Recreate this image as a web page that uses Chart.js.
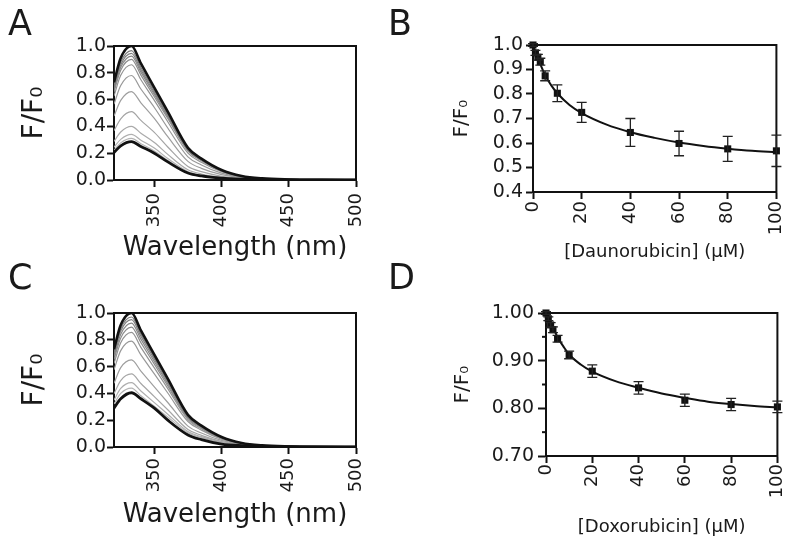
<!DOCTYPE html>
<html lang="en">
<head>
<meta charset="UTF-8">
<title>Fluorescence quenching</title>
<script src="https://cdn.jsdelivr.net/npm/chart.js"></script>
<style>
  body { margin: 0; background: #fff; }
  #wrap { position: relative; width: 800px; height: 539px; overflow: hidden; }
  #wrap canvas { position: absolute; }
  .letter { position: absolute; font-family: 'DejaVu Sans', sans-serif; font-size: 35px; line-height: 1; color: #1a1a1a; }
</style>
</head>
<body>
<div id="wrap">
  <canvas id="chartA" width="390" height="270" style="left:0;top:0"></canvas>
  <canvas id="chartB" width="400" height="270" style="left:400px;top:0"></canvas>
  <canvas id="chartC" width="390" height="269" style="left:0;top:270px"></canvas>
  <canvas id="chartD" width="400" height="269" style="left:400px;top:270px"></canvas>
  <div class="letter" style="left:8px;top:6px">A</div>
  <div class="letter" style="left:388px;top:6px">B</div>
  <div class="letter" style="left:8px;top:260px">C</div>
  <div class="letter" style="left:388px;top:260px">D</div>
</div>
<script>
// emission spectra (panels A and C)
const wavelengths = [320, 325, 333, 340, 350, 360, 375, 385, 400, 415, 430, 450, 475, 500];
const spectraTicks = [350, 400, 450, 500];
const spectraYTicks = [0, 0.2, 0.4, 0.6, 0.8, 1.0];

const topA = [0.73, 0.91, 1.0, 0.87, 0.69, 0.51, 0.24, 0.16, 0.075, 0.03, 0.012, 0.004, 0.001, 0];
const bottomA = [0.205, 0.255, 0.286, 0.25, 0.20, 0.135, 0.052, 0.03, 0.013, 0.006, 0.003, 0.001, 0, 0];
const grayA = [
  [0.704, 0.878, 0.965, 0.840, 0.666, 0.492, 0.232, 0.154, 0.072, 0.029, 0.012, 0.004, 0.001, 0],
  [0.690, 0.860, 0.945, 0.822, 0.652, 0.482, 0.227, 0.151, 0.071, 0.028, 0.011, 0.004, 0.001, 0],
  [0.675, 0.842, 0.925, 0.805, 0.638, 0.472, 0.222, 0.148, 0.069, 0.028, 0.011, 0.004, 0.001, 0],
  [0.657, 0.819, 0.900, 0.783, 0.621, 0.459, 0.216, 0.144, 0.068, 0.027, 0.011, 0.004, 0.001, 0],
  [0.627, 0.781, 0.860, 0.748, 0.594, 0.435, 0.201, 0.132, 0.062, 0.025, 0.010, 0.003, 0.001, 0],
  [0.566, 0.705, 0.780, 0.679, 0.541, 0.388, 0.173, 0.112, 0.051, 0.021, 0.009, 0.003, 0.001, 0],
  [0.477, 0.594, 0.660, 0.576, 0.459, 0.323, 0.139, 0.087, 0.040, 0.017, 0.007, 0.003, 0, 0],
  [0.368, 0.457, 0.510, 0.445, 0.355, 0.246, 0.101, 0.062, 0.028, 0.012, 0.005, 0.002, 0, 0],
  [0.288, 0.358, 0.400, 0.349, 0.280, 0.191, 0.076, 0.045, 0.020, 0.009, 0.004, 0.001, 0, 0],
  [0.244, 0.303, 0.340, 0.297, 0.238, 0.160, 0.062, 0.036, 0.015, 0.007, 0.004, 0.001, 0, 0],
  [0.222, 0.277, 0.310, 0.271, 0.217, 0.146, 0.056, 0.033, 0.014, 0.007, 0.003, 0.001, 0, 0]
];

const topC = [0.73, 0.91, 1.0, 0.87, 0.69, 0.51, 0.24, 0.16, 0.075, 0.03, 0.012, 0.004, 0.001, 0];
const bottomC = [0.29, 0.36, 0.405, 0.36, 0.29, 0.20, 0.09, 0.055, 0.022, 0.01, 0.005, 0.002, 0, 0];
const grayC = [
  [0.708, 0.883, 0.970, 0.844, 0.669, 0.495, 0.233, 0.155, 0.073, 0.029, 0.012, 0.004, 0.001, 0],
  [0.694, 0.865, 0.950, 0.827, 0.656, 0.485, 0.228, 0.152, 0.071, 0.029, 0.011, 0.004, 0.001, 0],
  [0.675, 0.842, 0.925, 0.805, 0.638, 0.472, 0.222, 0.148, 0.069, 0.028, 0.011, 0.004, 0.001, 0],
  [0.653, 0.814, 0.895, 0.779, 0.618, 0.456, 0.215, 0.143, 0.067, 0.027, 0.011, 0.004, 0.001, 0],
  [0.624, 0.778, 0.855, 0.744, 0.590, 0.436, 0.205, 0.137, 0.064, 0.026, 0.010, 0.003, 0.001, 0],
  [0.577, 0.719, 0.790, 0.687, 0.545, 0.403, 0.190, 0.126, 0.059, 0.024, 0.009, 0.003, 0.001, 0],
  [0.475, 0.592, 0.650, 0.566, 0.449, 0.332, 0.156, 0.104, 0.049, 0.020, 0.008, 0.003, 0.001, 0],
  [0.398, 0.496, 0.545, 0.474, 0.376, 0.278, 0.131, 0.087, 0.041, 0.016, 0.007, 0.002, 0, 0],
  [0.350, 0.437, 0.480, 0.418, 0.331, 0.245, 0.115, 0.077, 0.036, 0.014, 0.006, 0.002, 0, 0],
  [0.321, 0.400, 0.440, 0.383, 0.304, 0.224, 0.106, 0.070, 0.033, 0.013, 0.005, 0.002, 0, 0]
];

// titration data (panels B and D)
const conc = [0, 1, 2, 3, 5, 10, 20, 40, 60, 80, 100];
const concTicks = [0, 20, 40, 60, 80, 100];
const daunoF = [1.0, 0.968, 0.95, 0.932, 0.874, 0.803, 0.725, 0.643, 0.598, 0.576, 0.568];
const daunoErr = [0.006, 0.01, 0.012, 0.014, 0.02, 0.034, 0.041, 0.057, 0.05, 0.051, 0.064];
const doxoF = [1.0, 0.988, 0.975, 0.965, 0.946, 0.912, 0.878, 0.843, 0.817, 0.808, 0.803];
const doxoErr = [0.003, 0.004, 0.005, 0.006, 0.007, 0.008, 0.013, 0.013, 0.013, 0.013, 0.012];
const fitX = [0, 1, 2, 3, 5, 7.5, 10, 15, 20, 30, 40, 50, 60, 70, 80, 90, 100];
const daunoFit = [1.0, 0.972, 0.946, 0.922, 0.877, 0.835, 0.803, 0.755, 0.722, 0.676, 0.644, 0.621, 0.602, 0.588, 0.577, 0.568, 0.562];
const doxoFit = [1.0, 0.99, 0.98, 0.97, 0.949, 0.93, 0.913, 0.892, 0.877, 0.857, 0.843, 0.831, 0.822, 0.814, 0.809, 0.805, 0.802];
const daunoYTicks = [0.4, 0.5, 0.6, 0.7, 0.8, 0.9, 1.0];
const doxoYTicks = [0.7, 0.8, 0.9, 1.0];
const doxoMinorTicks = [0.75, 0.85, 0.95];

const grayShadesA = ['#7a7a7a', '#808080', '#868686', '#8c8c8c', '#929292', '#989898', '#9e9e9e', '#a4a4a4', '#aaaaaa', '#b0b0b0', '#b4b4b4'];
const grayShadesC = ['#7a7a7a', '#808080', '#868686', '#8c8c8c', '#929292', '#989898', '#9e9e9e', '#a6a6a6', '#aeaeae', '#b4b4b4'];

Chart.defaults.font.family = "'DejaVu Sans', sans-serif";
Chart.defaults.color = '#1a1a1a';
const INK = '#111';

// box round the plot area
const frame = {
  id: 'frame',
  beforeDatasetsDraw(chart) {
    const {ctx, chartArea: a} = chart;
    ctx.save();
    ctx.strokeStyle = INK;
    ctx.lineWidth = 2;
    ctx.strokeRect(a.left, a.top, a.right - a.left, a.bottom - a.top);
    ctx.restore();
  }
};

// vertical error bars with caps, for datasets that carry an "errors" list
const errorBars = {
  id: 'errorBars',
  afterDatasetsDraw(chart) {
    const {ctx} = chart;
    const yScale = chart.scales.y;
    chart.data.datasets.forEach((ds, i) => {
      if (!ds.errors) return;
      const meta = chart.getDatasetMeta(i);
      ctx.save();
      ctx.strokeStyle = '#222';
      ctx.lineWidth = 1.3;
      meta.data.forEach((pt, j) => {
        const v = ds.data[j].y, e = ds.errors[j];
        const y1 = yScale.getPixelForValue(v + e), y2 = yScale.getPixelForValue(v - e);
        ctx.beginPath();
        ctx.moveTo(pt.x, y1); ctx.lineTo(pt.x, y2);
        ctx.moveTo(pt.x - 5, y1); ctx.lineTo(pt.x + 5, y1);
        ctx.moveTo(pt.x - 5, y2); ctx.lineTo(pt.x + 5, y2);
        ctx.stroke();
      });
      ctx.restore();
    });
  }
};

// short unlabeled ticks on the y axis
const minorTicks = {
  id: 'minorTicks',
  afterDraw(chart, args, opts) {
    if (!opts.values) return;
    const {ctx} = chart;
    const y = chart.scales.y;
    ctx.save();
    ctx.strokeStyle = INK;
    ctx.lineWidth = 2;
    opts.values.forEach(v => {
      const py = y.getPixelForValue(v);
      ctx.beginPath();
      ctx.moveTo(y.right - 4, py);
      ctx.lineTo(y.right, py);
      ctx.stroke();
    });
    ctx.restore();
  }
};

function scaleOpts(o) {
  return {
    type: 'linear',
    min: o.min,
    max: o.max,
    afterBuildTicks: s => { s.ticks = o.ticks.map(v => ({value: v})); },
    afterFit: s => {
      if (o.width) s.width = o.width;
      if (o.height) s.height = o.height;
    },
    grid: {drawOnChartArea: false, tickLength: o.tickLen, tickWidth: 2, color: INK},
    border: {display: true, width: 2, color: INK},
    ticks: {
      font: {size: o.tickSize},
      padding: o.tickPad,
      autoSkip: false,
      minRotation: o.rot || 0,
      maxRotation: o.rot || 0,
      callback: o.fmt
    },
    title: {display: true, text: o.title, font: {size: o.titleSize}, padding: o.titlePad}
  };
}

function toPoints(xs, ys) {
  return ys.map((v, i) => ({x: xs[i], y: v}));
}

function spectrumChart(id, top, grays, bottom, shades, pad, xHeight, xTickPad, xTitlePad) {
  const datasets = [
    {data: toPoints(wavelengths, top), borderColor: INK, borderWidth: 2.6},
    {data: toPoints(wavelengths, bottom), borderColor: INK, borderWidth: 2.8}
  ];
  grays.forEach((g, i) => {
    datasets.push({data: toPoints(wavelengths, g), borderColor: shades[i], borderWidth: 1.2});
  });
  return new Chart(document.getElementById(id), {
    type: 'line',
    data: {datasets},
    options: {
      responsive: false,
      animation: false,
      layout: {padding: pad},
      elements: {point: {radius: 0}, line: {cubicInterpolationMode: 'monotone', fill: false}},
      plugins: {legend: {display: false}, tooltip: {enabled: false}},
      scales: {
        x: scaleOpts({min: 320, max: 500, ticks: spectraTicks, fmt: v => String(v), rot: 90,
          tickLen: 7, tickPad: xTickPad, tickSize: 18, height: xHeight,
          title: 'Wavelength (nm)', titleSize: 26, titlePad: {top: 0, bottom: xTitlePad}}),
        y: scaleOpts({min: 0, max: 1, ticks: spectraYTicks, fmt: v => v.toFixed(1),
          tickLen: 7, tickPad: 1, tickSize: 19, width: 114,
          title: 'F/F\u2080', titleSize: 28, titlePad: {top: 18, bottom: 0}})
      }
    },
    plugins: [frame]
  });
}

function titrationChart(id, values, errors, fit, o) {
  return new Chart(document.getElementById(id), {
    type: 'scatter',
    data: {
      datasets: [
        {data: toPoints(conc, values), errors: errors, pointStyle: 'rect', pointRadius: 5,
          backgroundColor: INK, borderColor: INK, borderWidth: 0, clip: false},
        {type: 'line', data: toPoints(fitX, fit), borderColor: INK, borderWidth: 2,
          pointRadius: 0, cubicInterpolationMode: 'monotone', fill: false}
      ]
    },
    options: {
      responsive: false,
      animation: false,
      layout: {padding: o.pad},
      plugins: {legend: {display: false}, tooltip: {enabled: false}, minorTicks: {values: o.minor}},
      scales: {
        x: scaleOpts({min: 0, max: 100, ticks: concTicks, fmt: v => String(v), rot: 90,
          tickLen: 7, tickPad: o.xTickPad, tickSize: 18, height: o.xHeight,
          title: o.xTitle, titleSize: 18, titlePad: {top: 0, bottom: o.xTitlePad}}),
        y: scaleOpts({min: o.yMin, max: 1, ticks: o.yTicks, fmt: v => v.toFixed(o.dec),
          tickLen: o.yTickLen, tickPad: o.yTickPad, tickSize: 19, width: o.yWidth,
          title: 'F/F\u2080', titleSize: 20, titlePad: {top: o.yTitlePad, bottom: 0}})
      }
    },
    plugins: [frame, errorBars, minorTicks]
  });
}

spectrumChart('chartA', topA, grayA, bottomA, grayShadesA, {top: 46, right: 34, left: 0, bottom: 0}, 90, 6, 6);
spectrumChart('chartC', topC, grayC, bottomC, grayShadesC, {top: 43, right: 34, left: 0, bottom: 0}, 92, 4, 8);

titrationChart('chartB', daunoF, daunoErr, daunoFit, {
  pad: {top: 45, right: 14, left: 0, bottom: 0}, xHeight: 78, xTickPad: 2, xTitlePad: 7,
  xTitle: '[Daunorubicin] (\u03BCM)', yMin: 0.4, yTicks: daunoYTicks, dec: 1,
  yTickLen: 7, yTickPad: 3, yWidth: 133, yTitlePad: 50, minor: null
});
titrationChart('chartD', doxoF, doxoErr, doxoFit, {
  pad: {top: 43, right: 14, left: 0, bottom: 0}, xHeight: 83, xTickPad: 1, xTitlePad: 1,
  xTitle: '[Doxorubicin] (\u03BCM)', yMin: 0.7, yTicks: doxoYTicks, dec: 2,
  yTickLen: 8, yTickPad: 4, yWidth: 146, yTitlePad: 51, minor: doxoMinorTicks
});
</script>
</body>
</html>
